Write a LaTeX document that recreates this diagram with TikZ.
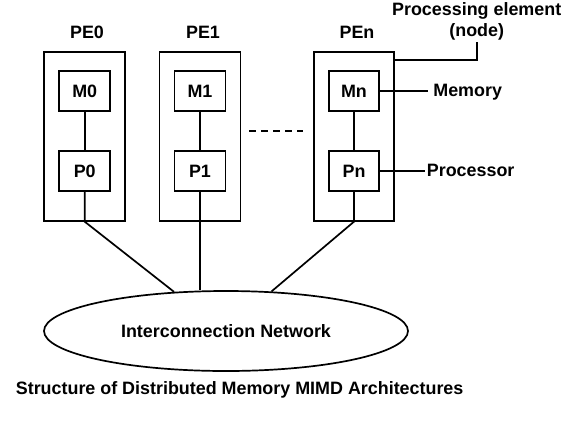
\documentclass[tikz,border=0pt]{standalone}
\usepackage{fontspec}
\setmainfont{Liberation Sans}
\usetikzlibrary{shapes.geometric}

\begin{document}
\begin{tikzpicture}[x=1pt,y=-1pt,line width=1.7pt,
  every node/.style={font=\bfseries\fontsize{17.9}{21.6}\selectfont},
  pe/.style={draw,rectangle,inner sep=0pt,minimum width=81pt,minimum height=169pt},
  blk/.style={draw,rectangle,inner sep=0pt,minimum width=51pt,minimum height=40pt},
  lbl/.style={inner sep=0pt}]
\useasboundingbox (0,0) rectangle (575,421);
\node[pe] (pe0) at (84.5,136.3) {};
\node[pe] (pe1) at (200,136.3) {};
\node[pe,minimum width=80pt] (pen) at (354,136.3) {};
\node[lbl,anchor=base] (pe0lbl) at (87,38) {PE0};
\node[lbl,anchor=base] (pe1lbl) at (203,38) {PE1};
\node[lbl,anchor=base] (penlbl) at (357,38) {PEn};
\node[blk] (m0) at (84.7,91) {M0};
\node[blk] (p0) at (84.7,171.3) {P0};
\node[blk] (m1) at (200,91) {M1};
\node[blk] (p1) at (200,171.3) {P1};
\node[blk,minimum width=50pt] (mn) at (354,91) {Mn};
\node[blk,minimum width=50pt] (pn) at (354,171.3) {Pn};
\node[draw,ellipse,inner sep=0pt,minimum width=364pt,minimum height=80pt] (net) at (226,331)
  {Interconnection Network};
\node[lbl,anchor=base west,inner xsep=4.5pt] (memlbl) at (428,96.7) {Memory};
\node[lbl,anchor=base west,inner xsep=1pt] (prolbl) at (425,176.7) {Processor};
\node[lbl,align=center,anchor=south] (pelbl) at (476.7,41.5) {Processing element\\(node)};
\node[lbl,anchor=base west] (title) at (15,394.3) {Structure of Distributed Memory MIMD Architectures};
\draw (m0) -- (p0);
\draw (m1) -- (p1);
\draw (mn) -- (pn);
\draw (p0) -- (p0 |- pe0.south) -- (net.143);
\draw (p1) -- (p1 |- net.north);
\draw (pn) -- (pn |- pen.south) -- (net.41.4);
\draw (mn) -- (mn -| memlbl.west);
\draw (pn) -- (pn -| prolbl.west);
\draw ([yshift=-9.3pt]pen.north east) -| (pelbl.south);
\draw[dash pattern=on 7pt off 5pt] (249,131) -- (303,131);
\end{tikzpicture}
\end{document}
